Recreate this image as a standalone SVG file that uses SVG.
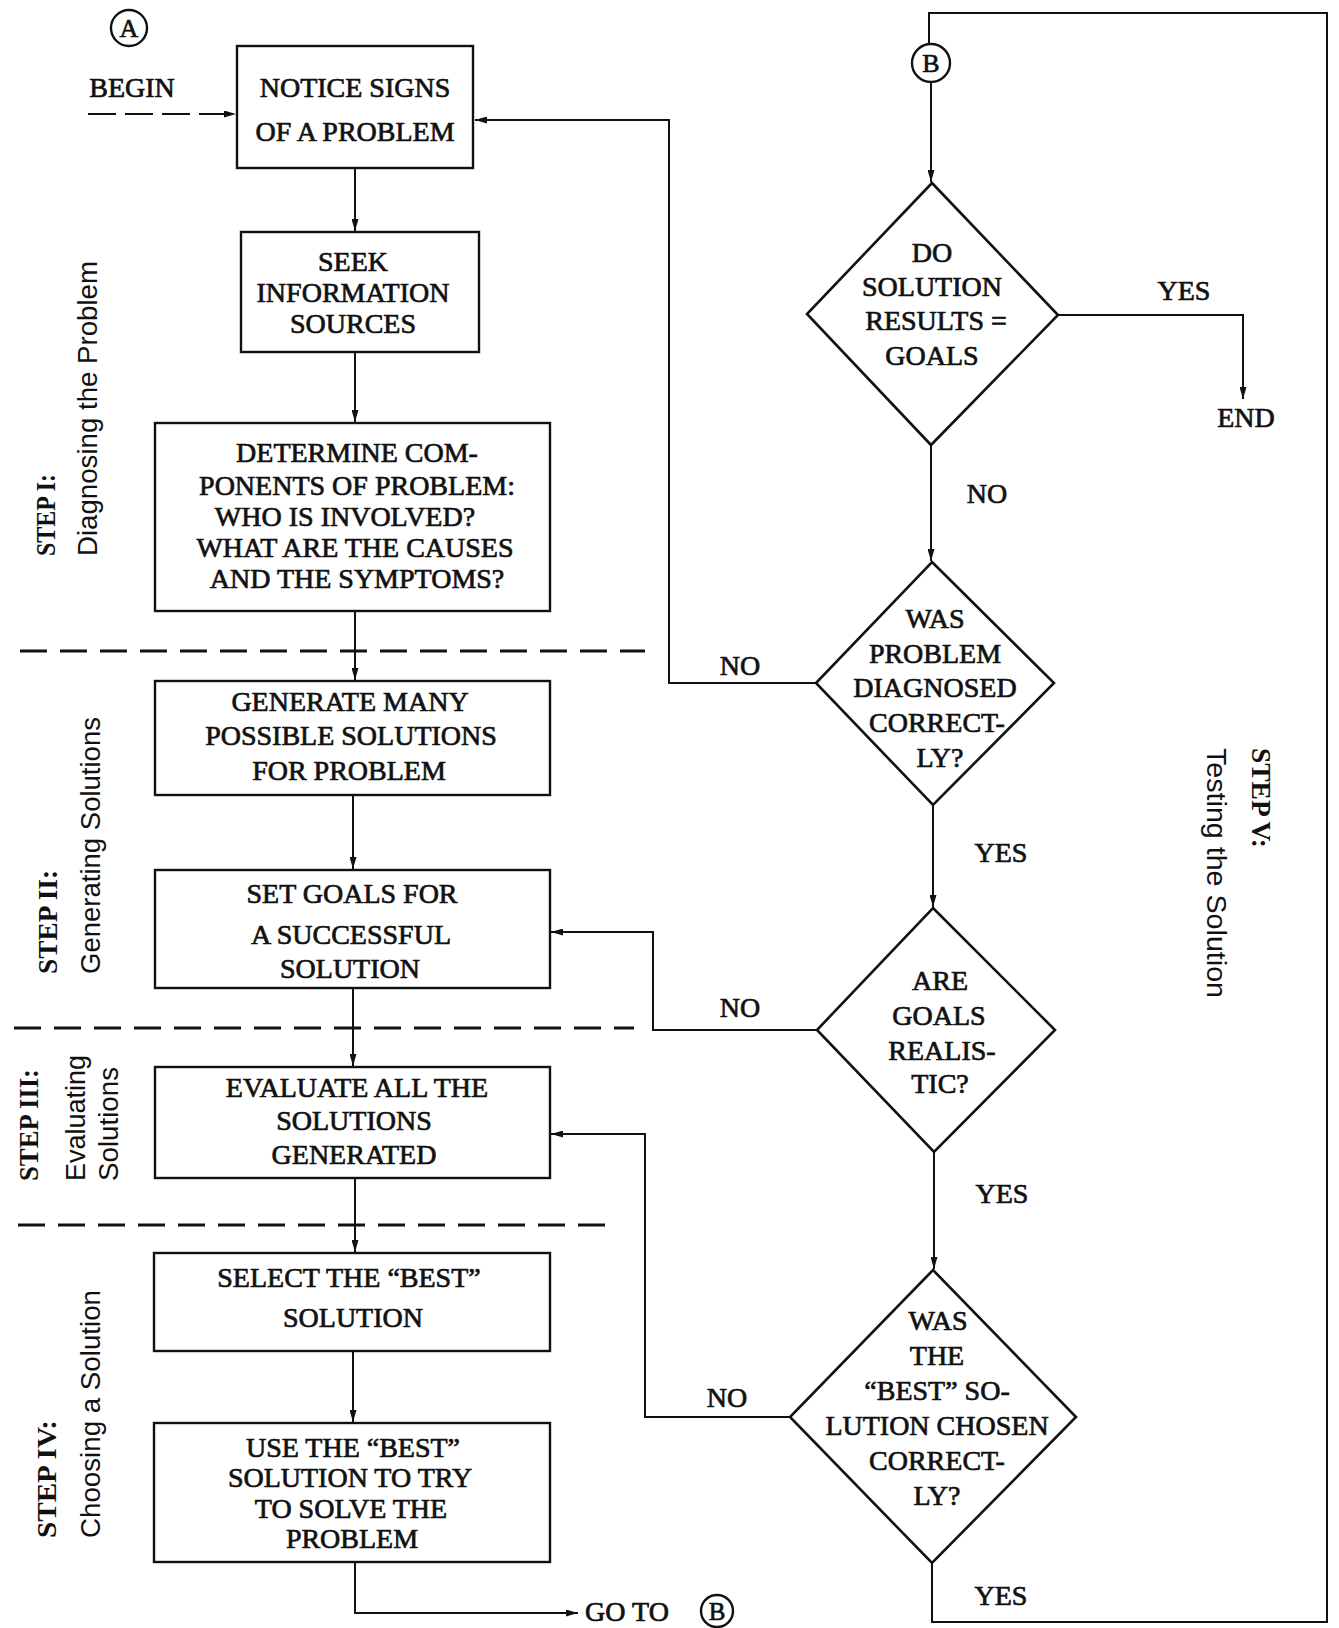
<svg xmlns="http://www.w3.org/2000/svg" width="1339" height="1628" viewBox="0 0 1339 1628">
<style>
.t{font-family:"Liberation Serif","Times New Roman",serif;font-size:28px;fill:#111;stroke:#111;stroke-width:0.7;text-anchor:middle}
.lbl{font-family:"Liberation Serif","Times New Roman",serif;font-size:28px;fill:#111;stroke:#111;stroke-width:0.7;text-anchor:middle}
.step{font-family:"Liberation Serif","Times New Roman",serif;font-size:28px;font-weight:bold;fill:#111}
.sub{font-family:"Liberation Sans",Arial,sans-serif;font-size:27px;fill:#111}
.box{fill:#fff;stroke:#111;stroke-width:2.4}
.dia{fill:#fff;stroke:#111;stroke-width:2.6}
.circ{fill:#fff;stroke:#111;stroke-width:2.4}
.con{fill:none;stroke:#111;stroke-width:2}
.sep{fill:none;stroke:#111;stroke-width:3.2;stroke-dasharray:27 13}
</style>
<defs>
<marker id="ah" viewBox="0 0 12 7" refX="12" refY="3.5" markerWidth="12" markerHeight="7" markerUnits="userSpaceOnUse" orient="auto">
<path d="M0,0 L12,3.5 L0,7 z" fill="#111"/>
</marker>
</defs>
<rect width="1339" height="1628" fill="#fff"/>

<g id="separators">
<line class="sep" x1="20" y1="651" x2="645" y2="651"/>
<line class="sep" x1="14" y1="1028" x2="634" y2="1028"/>
<line class="sep" x1="18" y1="1225" x2="616" y2="1225"/>
</g>

<g id="step-labels">
<text class="step" transform="translate(55,556) rotate(-90)" textLength="82" lengthAdjust="spacingAndGlyphs">STEP I:</text>
<text class="sub" transform="translate(97,556) rotate(-90)" textLength="295" lengthAdjust="spacingAndGlyphs">Diagnosing the Problem</text>
<text class="step" transform="translate(57,974) rotate(-90)" textLength="104" lengthAdjust="spacingAndGlyphs">STEP II:</text>
<text class="sub" transform="translate(100,974) rotate(-90)" textLength="257" lengthAdjust="spacingAndGlyphs">Generating Solutions</text>
<text class="step" transform="translate(38,1181) rotate(-90)" textLength="112" lengthAdjust="spacingAndGlyphs">STEP III:</text>
<text class="sub" transform="translate(85,1181) rotate(-90)" textLength="126" lengthAdjust="spacingAndGlyphs">Evaluating</text>
<text class="sub" transform="translate(118,1181) rotate(-90)" textLength="114" lengthAdjust="spacingAndGlyphs">Solutions</text>
<text class="step" transform="translate(56,1538) rotate(-90)" textLength="118" lengthAdjust="spacingAndGlyphs">STEP IV:</text>
<text class="sub" transform="translate(100,1538) rotate(-90)" textLength="248" lengthAdjust="spacingAndGlyphs">Choosing a Solution</text>
<text class="step" transform="translate(1252,748) rotate(90)" textLength="100" lengthAdjust="spacingAndGlyphs">STEP V:</text>
<text class="sub" transform="translate(1207,748) rotate(90)" textLength="250" lengthAdjust="spacingAndGlyphs">Testing the Solution</text>
</g>

<g id="connectors">
<line class="con" x1="88" y1="114" x2="236" y2="114" stroke-dasharray="28 9" marker-end="url(#ah)"/>
<line class="con" x1="355" y1="168" x2="355" y2="231" marker-end="url(#ah)"/>
<line class="con" x1="355" y1="352" x2="355" y2="422" marker-end="url(#ah)"/>
<line class="con" x1="355" y1="611" x2="355" y2="680" marker-end="url(#ah)"/>
<line class="con" x1="353" y1="795" x2="353" y2="869" marker-end="url(#ah)"/>
<line class="con" x1="353" y1="988" x2="353" y2="1066" marker-end="url(#ah)"/>
<line class="con" x1="355" y1="1178" x2="355" y2="1252" marker-end="url(#ah)"/>
<line class="con" x1="353" y1="1351" x2="353" y2="1422" marker-end="url(#ah)"/>
<path class="con" d="M355,1562 V1613 H578" marker-end="url(#ah)"/>
<path class="con" d="M932,1563 V1622 H1327 V13 H929 V44"/>
<path class="con" d="M931,82 V182" marker-end="url(#ah)"/>
<path class="con" d="M1058,315 H1243 V399" marker-end="url(#ah)"/>
<path class="con" d="M931,445 V561" marker-end="url(#ah)"/>
<path class="con" d="M816,683 H669 V120 H475" marker-end="url(#ah)"/>
<path class="con" d="M933,805 V907" marker-end="url(#ah)"/>
<path class="con" d="M817,1030 H653 V932 H551" marker-end="url(#ah)"/>
<path class="con" d="M934,1152 V1269" marker-end="url(#ah)"/>
<path class="con" d="M790,1417 H645 V1134 H551" marker-end="url(#ah)"/>
</g>

<g id="connector-labels">
<text class="lbl" x="132" y="97">BEGIN</text>
<text class="lbl" x="1184" y="299.5">YES</text>
<text class="lbl" x="1246" y="426.5">END</text>
<text class="lbl" x="987" y="502.5">NO</text>
<text class="lbl" x="740" y="674.5">NO</text>
<text class="lbl" x="1001" y="861.5">YES</text>
<text class="lbl" x="740" y="1016.5">NO</text>
<text class="lbl" x="1002" y="1202.5">YES</text>
<text class="lbl" x="727" y="1406.5">NO</text>
<text class="lbl" x="1001" y="1604.5">YES</text>
<text class="lbl" x="627" y="1621">GO TO</text>
</g>

<g id="connector-A">
<circle class="circ" cx="129" cy="28" r="18"/>
<text class="lbl" x="129" y="37" style="font-size:26px">A</text>
</g>
<g id="connector-B-top">
<circle class="circ" cx="931" cy="63" r="19"/>
<text class="lbl" x="931" y="72" style="font-size:26px">B</text>
</g>
<g id="connector-B-bottom">
<circle class="circ" cx="717" cy="1611" r="16"/>
<text class="lbl" x="717" y="1620" style="font-size:25px">B</text>
</g>

<g id="notice-signs">
<rect class="box" x="237" y="46" width="236" height="122"/>
<text class="t" x="355" y="96.5">NOTICE SIGNS</text>
<text class="t" x="355" y="140.5">OF A PROBLEM</text>
</g>
<g id="seek-information">
<rect class="box" x="241" y="232" width="238" height="120"/>
<text class="t" x="353" y="270.5">SEEK</text>
<text class="t" x="353" y="301.5">INFORMATION</text>
<text class="t" x="353" y="332.5">SOURCES</text>
</g>
<g id="determine-components">
<rect class="box" x="155" y="423" width="395" height="188"/>
<text class="t" x="357" y="461.5">DETERMINE COM-</text>
<text class="t" x="357" y="494.5">PONENTS OF PROBLEM:</text>
<text class="t" x="345" y="525.5">WHO IS INVOLVED?</text>
<text class="t" x="355" y="556.5">WHAT ARE THE CAUSES</text>
<text class="t" x="357" y="587.5">AND THE SYMPTOMS?</text>
</g>
<g id="generate-solutions">
<rect class="box" x="155" y="681" width="395" height="114"/>
<text class="t" x="350" y="710.5">GENERATE MANY</text>
<text class="t" x="351" y="744.5">POSSIBLE SOLUTIONS</text>
<text class="t" x="349" y="779.5">FOR PROBLEM</text>
</g>
<g id="set-goals">
<rect class="box" x="155" y="870" width="395" height="118"/>
<text class="t" x="352" y="902.5">SET GOALS FOR</text>
<text class="t" x="351" y="943.5">A SUCCESSFUL</text>
<text class="t" x="350" y="977.5">SOLUTION</text>
</g>
<g id="evaluate-solutions">
<rect class="box" x="155" y="1067" width="395" height="111"/>
<text class="t" x="357" y="1096.5">EVALUATE ALL THE</text>
<text class="t" x="354" y="1129.5">SOLUTIONS</text>
<text class="t" x="354" y="1163.5">GENERATED</text>
</g>
<g id="select-best">
<rect class="box" x="154" y="1253" width="396" height="98"/>
<text class="t" x="349" y="1286.5">SELECT THE “BEST”</text>
<text class="t" x="353" y="1326.5">SOLUTION</text>
</g>
<g id="use-best">
<rect class="box" x="154" y="1423" width="396" height="139"/>
<text class="t" x="353" y="1456.5">USE THE “BEST”</text>
<text class="t" x="350" y="1486.5">SOLUTION TO TRY</text>
<text class="t" x="351" y="1517.5">TO SOLVE THE</text>
<text class="t" x="352" y="1547.5">PROBLEM</text>
</g>

<g id="results-equal-goals">
<polygon class="dia" points="932,183 1058,315 931,445 807,314"/>
<text class="t" x="932" y="261.5">DO</text>
<text class="t" x="932" y="295.5">SOLUTION</text>
<text class="t" x="936" y="329.5">RESULTS =</text>
<text class="t" x="932" y="364.5">GOALS</text>
</g>
<g id="diagnosed-correctly">
<polygon class="dia" points="932,562 1054,683 933,805 816,683"/>
<text class="t" x="935" y="627.5">WAS</text>
<text class="t" x="935" y="662.5">PROBLEM</text>
<text class="t" x="935" y="696.5">DIAGNOSED</text>
<text class="t" x="937" y="731.5">CORRECT-</text>
<text class="t" x="940" y="766.5">LY?</text>
</g>
<g id="goals-realistic">
<polygon class="dia" points="933,908 1055,1030 934,1152 817,1030"/>
<text class="t" x="940" y="989.5">ARE</text>
<text class="t" x="939" y="1024.5">GOALS</text>
<text class="t" x="942" y="1059.5">REALIS-</text>
<text class="t" x="940" y="1092.5">TIC?</text>
</g>
<g id="best-chosen-correctly">
<polygon class="dia" points="933,1270 1076,1417 932,1563 790,1417"/>
<text class="t" x="938" y="1329.5">WAS</text>
<text class="t" x="937" y="1364.5">THE</text>
<text class="t" x="937" y="1399.5">“BEST” SO-</text>
<text class="t" x="937" y="1434.5">LUTION CHOSEN</text>
<text class="t" x="937" y="1469.5">CORRECT-</text>
<text class="t" x="937" y="1504.5">LY?</text>
</g>
</svg>
